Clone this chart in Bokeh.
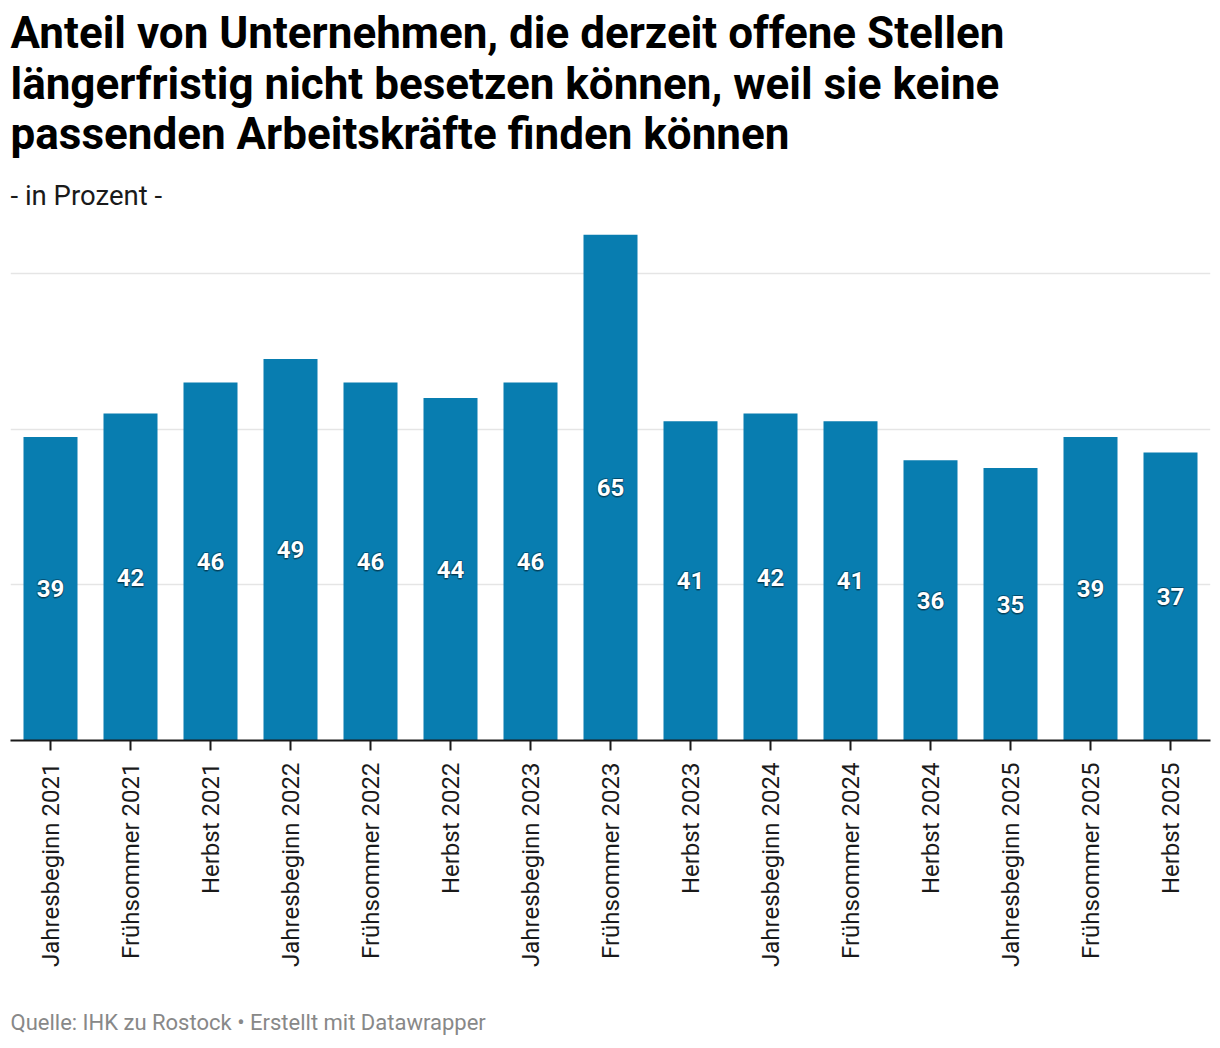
import math
from bokeh.plotting import figure
from bokeh.models import FixedTicker, ColumnDataSource, Title
from bokeh.core.properties import value
from bokeh.embed import file_html
from bokeh.resources import INLINE

categories = ["Jahresbeginn 2021", "Frühsommer 2021", "Herbst 2021",
              "Jahresbeginn 2022", "Frühsommer 2022", "Herbst 2022",
              "Jahresbeginn 2023", "Frühsommer 2023", "Herbst 2023",
              "Jahresbeginn 2024", "Frühsommer 2024", "Herbst 2024",
              "Jahresbeginn 2025", "Frühsommer 2025", "Herbst 2025"]
values = [39, 42, 46, 49, 46, 44, 46, 65, 41, 42, 41, 36, 35, 39, 37]
grid_ticks = [20, 40, 60]

title_lines = ["Anteil von Unternehmen, die derzeit offene Stellen",
               "längerfristig nicht besetzen können, weil sie keine",
               "passenden Arbeitskräfte finden können"]
subtitle = "- in Prozent -"
footer = "Quelle: IHK zu Rostock • Erstellt mit Datawrapper"

W, H = 1212, 1040
FRAME_TOP, FRAME_BOTTOM = 234, 740
YMAX = 65

p = figure(x_range=categories, y_range=(0, YMAX), width=W, height=H,
           output_backend="svg", toolbar_location=None,
           min_border_left=10, min_border_right=2,
           min_border_top=FRAME_TOP, min_border_bottom=H - FRAME_BOTTOM)
p.x_range.range_padding = 0
p.outline_line_color = None
p.background_fill_color = "white"
p.border_fill_color = "white"

src = ColumnDataSource(dict(cat=categories, val=values,
                            half=[v / 2 for v in values],
                            lab=[str(v) for v in values]))
p.vbar(x="cat", top="val", bottom=0, width=0.675, source=src,
       fill_color="#087db0", line_color=None)

# value labels with soft shadow
for dx, dy in [(1, 1), (-1, 1), (1, -1), (-1, -1), (0, 2)]:
    p.text(x="cat", y="half", text="lab", source=src, x_offset=dx, y_offset=dy,
           text_font=value("Roboto"), text_font_style="bold",
           text_font_size="24px", text_color="#000000", text_alpha=0.22,
           text_align="center", text_baseline="middle")
p.text(x="cat", y="half", text="lab", source=src,
       text_font=value("Roboto"), text_font_style="bold",
       text_font_size="24px", text_color="white",
       text_align="center", text_baseline="middle")

# axes
p.yaxis.visible = False
p.ygrid.ticker = FixedTicker(ticks=grid_ticks)
p.ygrid.grid_line_color = "#e5e5e5"
p.ygrid.grid_line_width = 1.5
p.xgrid.visible = False

ax = p.xaxis[0]
ax.axis_line_color = "#1a1a1a"
ax.axis_line_width = 2
ax.major_tick_line_color = "#1a1a1a"
ax.major_tick_line_width = 2
ax.major_tick_out = 10
ax.major_tick_in = 0
ax.minor_tick_line_color = None
ax.major_label_orientation = math.pi / 2
ax.major_label_text_font = "Roboto"
ax.major_label_text_font_size = "24px"
ax.major_label_text_color = "#1a1a1a"
ax.major_label_standoff = 12

# titles (added nearest-to-frame first)
p.add_layout(Title(text=subtitle, text_font="Roboto", text_font_size="27.5px",
                   text_font_style="normal", text_color="#1a1a1a",
                   align="left", standoff=45), "above")
for line, so in zip(reversed(title_lines), [-11, 3, -8]):
    p.add_layout(Title(text=line, text_font="Roboto", text_font_size="44px",
                       text_font_style="bold", text_color="#000000",
                       align="left", standoff=so), "above")
# spacer between axis labels and footer
p.add_layout(Title(text="\u00a0", text_font="Roboto", text_font_size="10px",
                   text_color="white", align="left", standoff=25), "below")
p.add_layout(Title(text=footer, text_font="Roboto", text_font_size="22px",
                   text_font_style="normal", text_color="#888888",
                   align="left", standoff=0), "below")

open("out.html", "w").write(file_html(p, INLINE))
